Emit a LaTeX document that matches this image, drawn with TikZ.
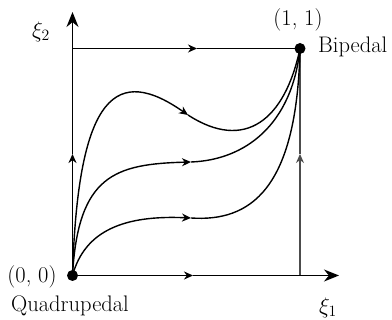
\documentclass[tikz,border=0pt]{standalone}
\usepackage{fontspec}
\usepackage{fix-cm}
\usetikzlibrary{arrows.meta}
\begin{document}
\begin{tikzpicture}[x=1pt,y=-1pt,
  line/.style={line width=1.4pt},
  axis/.style={line width=1.8pt},
  thinline/.style={line width=1.1pt,black!70},
  tip/.style={-{Stealth[length=9pt,width=8pt]}},
  bigtip/.style={-{Stealth[length=15pt,width=12pt]}},
  dot/.style={circle,fill,inner sep=0pt,minimum size=11pt},
  lab/.style={font=\fontsize{22.5}{26}\selectfont,inner sep=0pt}]
\useasboundingbox (0,0) rectangle (392,320);
\coordinate (O) at (72.5,275.5);
\coordinate (B) at (300,48.5);
\coordinate (Ytip) at (72.5,12);
\coordinate (Xtip) at (339,275.5);
\coordinate (TL) at (72.5,48.5);
\coordinate (BR) at (300,275.5);
\coordinate (Xm) at (193,275.5);
\coordinate (Tm) at (197,48.5);
\coordinate (Lm) at (72.5,154);
\coordinate (Rm) at (300,154);
\coordinate (A1) at (188,115);
\coordinate (M1) at (191,162);
\coordinate (L1) at (191,218);
% axes
\draw[axis,tip] (O) -- (Xm);
\draw[axis,bigtip] (Xm) -- (Xtip);
\draw[axis,tip] (O) -- (Lm);
\draw[axis,bigtip] (Lm) -- (Ytip);
% box edges
\draw[line,tip] (TL) -- (Tm);
\draw[line] (Tm) -- (B);
\draw[thinline,tip] (BR) -- (Rm);
\draw[thinline] (Rm) -- (B);
% curves
\draw[line,tip] (O) .. controls (78,90) and (118,66) .. (A1);
\draw[line] (A1) .. controls (245,152) and (285,120) .. (B);
\draw[line,tip] (O) .. controls (78,175) and (115,164) .. (M1);
\draw[line] (M1) .. controls (245,160) and (292,125) .. (B);
\draw[line,tip] (O) .. controls (85,230) and (125,215) .. (L1);
\draw[line] (L1) .. controls (250,222) and (297,190) .. (B);
% dots
\node[dot] (Od) at (O) {};
\node[dot] (Bd) at (B) {};
% labels
\node[lab] (x2) at (41,32) {$\xi_2$};
\node[lab] (x1) at (328,308) {$\xi_1$};
\node[lab] (l11) at (298,20) {(1, 1)};
\node[lab,anchor=west] (bip) at (318,47) {Bipedal};
\node[lab] (l00) at (32,277) {(0, 0)};
\node[lab,anchor=west] (quad) at (11,306) {Quadrupedal};
\end{tikzpicture}
\end{document}
